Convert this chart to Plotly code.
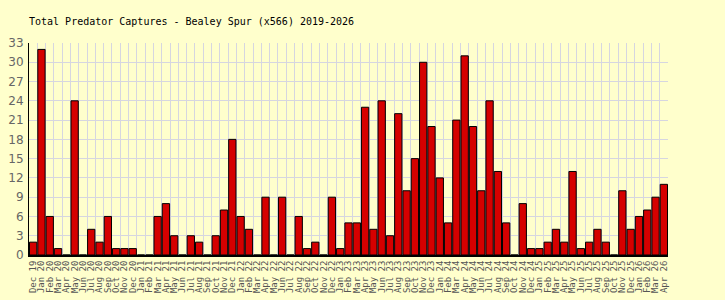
import plotly.graph_objects as go

months = [
    "Dec 19",
    "Jan 20", "Feb 20", "Mar 20", "Apr 20", "May 20", "Jun 20", "Jul 20", "Aug 20", "Sep 20", "Oct 20", "Nov 20", "Dec 20",
    "Jan 21", "Feb 21", "Mar 21", "Apr 21", "May 21", "Jun 21", "Jul 21", "Aug 21", "Sep 21", "Oct 21", "Nov 21", "Dec 21",
    "Jan 22", "Feb 22", "Mar 22", "Apr 22", "May 22", "Jun 22", "Jul 22", "Aug 22", "Sep 22", "Oct 22", "Nov 22", "Dec 22",
    "Jan 23", "Feb 23", "Mar 23", "Apr 23", "May 23", "Jun 23", "Jul 23", "Aug 23", "Sep 23", "Oct 23", "Nov 23", "Dec 23",
    "Jan 24", "Feb 24", "Mar 24", "Apr 24", "May 24", "Jun 24", "Jul 24", "Aug 24", "Sep 24", "Oct 24", "Nov 24", "Dec 24",
    "Jan 25", "Feb 25", "Mar 25", "Apr 25", "May 25", "Jun 25", "Jul 25", "Aug 25", "Sep 25", "Oct 25", "Nov 25", "Dec 25",
    "Jan 26", "Feb 26", "Mar 26", "Apr 26",
]

captures = [
    2,
    32, 6, 1, 0, 24, 0, 4, 2, 6, 1, 1, 1,
    0, 0, 6, 8, 3, 0, 3, 2, 0, 3, 7, 18,
    6, 4, 0, 9, 0, 9, 0, 6, 1, 2, 0, 9,
    1, 5, 5, 23, 4, 24, 3, 22, 10, 15, 30, 20,
    12, 5, 21, 31, 20, 10, 24, 13, 5, 0, 8, 1,
    1, 2, 4, 2, 13, 1, 2, 4, 2, 0, 10, 4,
    6, 7, 9, 11,
]

y_ticks = [0, 3, 6, 9, 12, 15, 18, 21, 24, 27, 30, 33]

bg = "#FFFFCC"
grid = "#D6D6E0"

fig = go.Figure(
    go.Bar(
        x=months,
        y=captures,
        marker=dict(color="#D50000", line=dict(color="#000000", width=1)),
        hoverinfo="x+y",
    )
)

fig.update_layout(
    width=725,
    height=300,
    margin=dict(l=29, r=57, t=43, b=45),
    paper_bgcolor=bg,
    plot_bgcolor=bg,
    bargap=0.12,
    showlegend=False,
    title=dict(
        text="Total Predator Captures - Bealey Spur (x566) 2019-2026",
        font=dict(family="DejaVu Sans Mono", size=10, color="#000000"),
        x=0.04,
        xref="container",
        xanchor="left",
        y=1 - 21 / 300,
        yref="container",
        yanchor="middle",
    ),
)

fig.update_xaxes(
    type="category",
    tickmode="linear",
    tick0=0,
    dtick=1,
    tickson="boundaries",
    showgrid=True,
    gridcolor=grid,
    gridwidth=1,
    tickangle=-90,
    ticks="",
    tickfont=dict(family="DejaVu Sans Mono", size=9, color="#555555"),
    showline=True,
    linecolor="#000000",
    linewidth=2,
    range=[-0.5, len(months) - 0.5],
    automargin=False,
    fixedrange=True,
)

fig.update_yaxes(
    range=[0, 33],
    tickvals=y_ticks,
    showgrid=True,
    gridcolor=grid,
    gridwidth=1,
    ticks="",
    tickfont=dict(family="DejaVu Sans", size=12, color="#666666"),
    showline=True,
    linecolor="#000000",
    linewidth=1,
    zeroline=False,
    ticklabelstandoff=2,
    automargin=False,
    fixedrange=True,
)

fig.write_html("out.html")
